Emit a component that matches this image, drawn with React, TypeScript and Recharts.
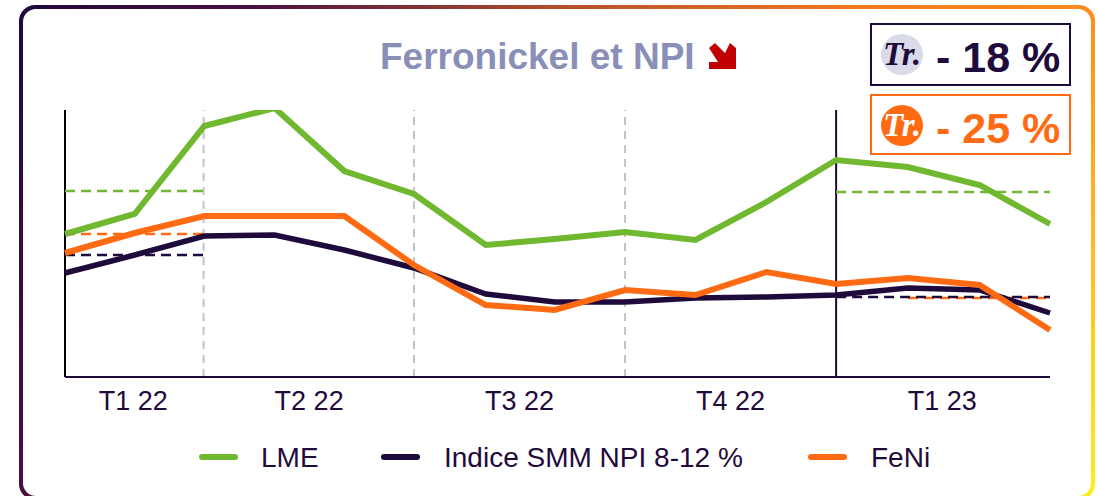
import { LineChart, Line, XAxis, YAxis, ReferenceLine } from 'recharts'

// monthly points, jan 22 to mar 23. y unit is arbitrary (no scale on the original)
const MONTHS = [0, 0.99, 1.98, 2.98, 3.97, 4.96, 5.98, 6.96, 7.96, 8.96, 9.97, 10.96, 11.98, 13, 14]
const LME = [143, 163, 251, 269, 206, 183, 132, 138, 145, 137, 175, 217, 210, 192, 153]
const SMM = [104, 122, 141, 142, 127, 109, 83, 75, 75, 79, 80, 82, 89, 87, 64]
const FENI = [124, 144, 161, 161, 161, 112, 72, 67, 87, 82, 105, 93, 99, 92, 47]

// quarter averages, dashed
const LME_AVG = [186, 186, 186, null, null, null, null, null, null, null, null, 185, 185, 185, 185]
const SMM_AVG = [122, 122, 122, null, null, null, null, null, null, null, null, 80, 80, 80, 80]
const FENI_AVG = [143, 143, 143, null, null, null, null, null, null, null, null, null, 79, 79, 79]

const QUARTER_TICKS = [0.97, 3.47, 6.46, 9.46, 12.47]
const QUARTER_LABELS = ['T1 22', 'T2 22', 'T3 22', 'T4 22', 'T1 23']
const DIVIDERS = [1.97, 4.96, 7.96]
const YEAR_DIVIDER = 10.96

const NAVY = '#1f0a3c'
const GREEN = '#6fb82f'
const ORANGE = '#ff6a13'
const FONT = '"Liberation Sans", Arial, sans-serif'

const chartData = MONTHS.map((m, i) => ({
  m,
  lme: LME[i],
  smm: SMM[i],
  feni: FENI[i],
  lmeAvg: LME_AVG[i],
  smmAvg: SMM_AVG[i],
  feniAvg: FENI_AVG[i],
}))

const LEGEND_ITEMS = [
  { label: 'LME', color: GREEN, swatch: 199, text: 261 },
  { label: 'Indice SMM NPI 8-12 %', color: NAVY, swatch: 381, text: 444 },
  { label: 'FeNi', color: ORANGE, swatch: 808, text: 871 },
]

function ChartLegend() {
  return (
    <div style={{ position: 'absolute', left: 0, top: 440, width: 1097, height: 36 }}>
      {LEGEND_ITEMS.map(it => (
        <div key={it.label}>
          <div
            style={{
              position: 'absolute',
              left: it.swatch,
              top: 14,
              width: 39,
              height: 6,
              borderRadius: 3,
              background: it.color,
            }}
          />
          <span
            style={{
              position: 'absolute',
              left: it.text,
              top: 2,
              fontSize: 28,
              lineHeight: '32px',
              color: NAVY,
              whiteSpace: 'nowrap',
            }}
          >
            {it.label}
          </span>
        </div>
      ))}
    </div>
  )
}

function TrBadge({ value, color, top, height, filled }: { value: string; color: string; top: number; height: number; filled: boolean }) {
  return (
    <div
      style={{
        position: 'absolute',
        left: 870,
        top,
        width: 197,
        height,
        border: `2px solid ${color}`,
        background: '#fff',
      }}
    >
      <div
        style={{
          position: 'absolute',
          left: 9,
          top: 9,
          width: 42,
          height: 41,
          borderRadius: '50%',
          background: filled ? color : '#dadbe9',
          color: filled ? '#fff' : color,
          fontFamily: '"Liberation Serif", serif',
          fontStyle: 'italic',
          fontWeight: 700,
          fontSize: 33,
          lineHeight: '41px',
          textAlign: 'center',
        }}
      >
        Tr.
      </div>
      <span
        style={{
          position: 'absolute',
          left: 64,
          top: 9,
          fontSize: 43,
          lineHeight: '46px',
          fontWeight: 700,
          color,
          whiteSpace: 'nowrap',
        }}
      >
        {value}
      </span>
    </div>
  )
}

export default function App() {
  return (
    <div style={{ position: 'absolute', left: 0, top: 0, width: 1097, height: 496, background: '#fff', fontFamily: FONT, overflow: 'hidden' }}>
      {/* gradient frame, bottom edge runs off the page */}
      <div
        style={{
          position: 'absolute',
          left: 19,
          top: 5,
          width: 1076,
          height: 495,
          borderRadius: 16,
          background: 'linear-gradient(115deg, #1f0a3c 0%, #4a1040 18%, #b5502a 42%, #f57a1f 65%, #ff8a1e 82%, #ffee20 100%)',
        }}
      />
      <div style={{ position: 'absolute', left: 23, top: 9, width: 1068, height: 487, borderRadius: 13, background: '#fff' }} />

      <LineChart
        width={1097}
        height={496}
        data={chartData}
        margin={{ top: 110, right: 47, bottom: 79, left: 65 }}
        style={{ position: 'absolute', left: 0, top: 0 }}
      >
        <XAxis
          dataKey="m"
          type="number"
          domain={[0, 14]}
          ticks={QUARTER_TICKS}
          tickFormatter={(v: number) => QUARTER_LABELS[QUARTER_TICKS.indexOf(v)]}
          tick={{ fontSize: 27, fill: NAVY, fontFamily: FONT }}
          tickLine={false}
          tickMargin={8}
          axisLine={{ stroke: NAVY, strokeWidth: 2 }}
          interval={0}
          height={40}
        />
        <YAxis domain={[0, 267]} allowDataOverflow width={0} tick={false} tickLine={false} axisLine={false} />
        {DIVIDERS.map(x => (
          <ReferenceLine key={x} x={x} stroke="#c4c4c4" strokeWidth={2} strokeDasharray="8 6" />
        ))}
        <ReferenceLine x={YEAR_DIVIDER} stroke={NAVY} strokeWidth={2} />
        <ReferenceLine x={0} stroke="#000" strokeWidth={2} />

        <Line dataKey="lmeAvg" stroke={GREEN} strokeWidth={2.5} strokeDasharray="10 6" dot={false} isAnimationActive={false} />
        <Line dataKey="feniAvg" stroke={ORANGE} strokeWidth={2.5} strokeDasharray="10 6" dot={false} isAnimationActive={false} />
        <Line dataKey="smmAvg" stroke={NAVY} strokeWidth={2.5} strokeDasharray="10 6" dot={false} isAnimationActive={false} />
        <Line dataKey="lme" stroke={GREEN} strokeWidth={6} strokeLinejoin="miter" dot={false} isAnimationActive={false} />
        <Line dataKey="smm" stroke={NAVY} strokeWidth={5.5} strokeLinejoin="miter" dot={false} isAnimationActive={false} />
        <Line dataKey="feni" stroke={ORANGE} strokeWidth={6} strokeLinejoin="miter" dot={false} isAnimationActive={false} />
      </LineChart>

      <div
        style={{
          position: 'absolute',
          left: 380,
          top: 36,
          fontSize: 37,
          lineHeight: '42px',
          fontWeight: 700,
          color: '#8a8fba',
          whiteSpace: 'nowrap',
        }}
      >
        Ferronickel et NPI
      </div>
      <svg style={{ position: 'absolute', left: 708, top: 42 }} width={30} height={30} viewBox="0 0 30 30">
        <path d="M1 6 L7 1 L17 11 L22 1 L28 6 L28 27 L1 27 L1 20 L10 20 Z" fill="#c00000" />
      </svg>

      <TrBadge value="- 18 %" color={NAVY} top={23} height={59} filled={false} />
      <TrBadge value="- 25 %" color={ORANGE} top={94} height={57} filled />

      <ChartLegend />
    </div>
  )
}
